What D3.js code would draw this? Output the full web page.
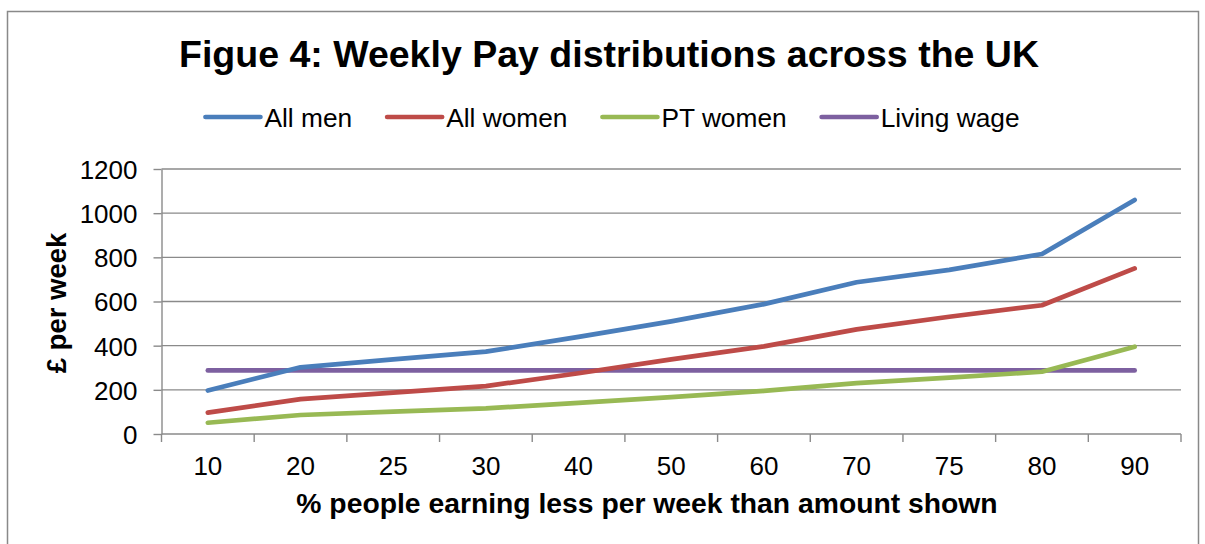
<!DOCTYPE html>
<html>
<head>
<meta charset="utf-8">
<script src="https://cdn.jsdelivr.net/npm/d3@7"></script>
<style>
  body { margin: 0; background: #fff; }
  svg { display: block; font-family: "Liberation Sans", Arial, sans-serif; }
</style>
</head>
<body>
<svg id="chart" width="1205" height="544"></svg>
<script>
// percentile categories on the x axis
var categories = ["10", "20", "25", "30", "40", "50", "60", "70", "75", "80", "90"];

// weekly pay (GBP)
var allMen     = [197, 302, 338, 373, 440, 510, 588, 687, 743, 815, 1060];
var allWomen   = [97, 158, 187, 217, 275, 338, 397, 474, 531, 583, 750];
var ptWomen    = [51, 86, 101, 116, 141, 167, 195, 230, 255, 282, 395];
var livingWage = [288, 288, 288, 288, 288, 288, 288, 288, 288, 288, 288];

var seriesNames = ["All men", "All women", "PT women", "Living wage"];
var seriesColors = ["#4a7ebb", "#be4b48", "#98b954", "#7d60a0"];
var yTicks = [0, 200, 400, 600, 800, 1000, 1200];

var series = [allMen, allWomen, ptWomen, livingWage].map(function(vals, i) {
	return { name: seriesNames[i], color: seriesColors[i], values: vals };
});

var svg = d3.select("#chart");

// outer chart border
svg.append("rect")
	.attr("x", 7.5).attr("y", 11.5)
	.attr("width", 1191).attr("height", 545)
	.attr("fill", "none")
	.attr("stroke", "#898989")
	.attr("stroke-width", 1.5);

var plotLeft = 161.5, plotRight = 1181, plotTop = 169, plotBottom = 434;

var x = d3.scaleBand().domain(categories).range([plotLeft, plotRight]).padding(0);
var y = d3.scaleLinear().domain([0, 1200]).range([plotBottom, plotTop]);

var gridColor = "#8a8a8a";

// horizontal gridlines
svg.append("g")
	.selectAll("line")
	.data(yTicks.slice(1))
	.enter().append("line")
	.attr("x1", plotLeft).attr("x2", plotRight)
	.attr("y1", function(d) { return y(d); })
	.attr("y2", function(d) { return y(d); })
	.attr("stroke", gridColor)
	.attr("stroke-width", 1.4);

// y axis
var yAxis = svg.append("g")
	.attr("transform", "translate(" + plotLeft + ",0)")
	.call(d3.axisLeft(y).tickValues(yTicks).tickFormat(d3.format("d"))
		.tickSizeInner(8).tickSizeOuter(0).tickPadding(16));
yAxis.select(".domain").attr("stroke", gridColor).attr("stroke-width", 1.4);
yAxis.selectAll(".tick line").attr("stroke", gridColor).attr("stroke-width", 1.4);
yAxis.selectAll(".tick text")
	.attr("font-size", 26)
	.attr("font-family", "Liberation Sans, Arial, sans-serif")
	.attr("fill", "#000")
	.attr("dy", "0.36em");

// x axis: ticks at band edges, labels at band centres
var edges = categories.map(function(c) { return x(c); }).concat([plotRight]);
svg.append("line")
	.attr("x1", plotLeft).attr("x2", plotRight)
	.attr("y1", plotBottom).attr("y2", plotBottom)
	.attr("stroke", gridColor).attr("stroke-width", 1.4);
svg.append("g")
	.selectAll("line")
	.data(edges)
	.enter().append("line")
	.attr("x1", function(d) { return d; })
	.attr("x2", function(d) { return d; })
	.attr("y1", plotBottom).attr("y2", plotBottom + 8)
	.attr("stroke", gridColor).attr("stroke-width", 1.4);
svg.append("g")
	.selectAll("text")
	.data(categories)
	.enter().append("text")
	.attr("x", function(d) { return x(d) + x.bandwidth() / 2; })
	.attr("y", 475)
	.attr("text-anchor", "middle")
	.attr("font-size", 26)
	.text(function(d) { return d; });

// series lines
var line = d3.line()
	.x(function(d, i) { return x(categories[i]) + x.bandwidth() / 2; })
	.y(function(d) { return y(d); });

svg.append("g")
	.selectAll("path")
	.data(series.slice().reverse())
	.enter().append("path")
	.attr("d", function(d) { return line(d.values); })
	.attr("fill", "none")
	.attr("stroke", function(d) { return d.color; })
	.attr("stroke-width", 4.7)
	.attr("stroke-linecap", "round")
	.attr("stroke-linejoin", "round");

// title
svg.append("text")
	.attr("x", 609).attr("y", 67)
	.attr("text-anchor", "middle")
	.attr("font-size", 37.5)
	.attr("font-weight", "bold")
	.text("Figue 4: Weekly Pay distributions across the UK");

// axis titles
svg.append("text")
	.attr("x", 647).attr("y", 513)
	.attr("text-anchor", "middle")
	.attr("font-size", 28.3)
	.attr("font-weight", "bold")
	.text("% people earning less per week than amount shown");

svg.append("text")
	.attr("transform", "translate(66,303) rotate(-90)")
	.attr("text-anchor", "middle")
	.attr("font-size", 27.5)
	.attr("font-weight", "bold")
	.text("£ per week");

// legend
var legend = svg.append("g");
var items = legend.selectAll("g")
	.data(series)
	.enter().append("g");
items.append("line")
	.attr("x1", 0).attr("x2", 55)
	.attr("y1", 0).attr("y2", 0)
	.attr("stroke", function(d) { return d.color; })
	.attr("stroke-width", 4.7)
	.attr("stroke-linecap", "round");
items.append("text")
	.attr("x", 59).attr("y", 9.5)
	.attr("font-size", 26.3)
	.text(function(d) { return d.name; });

var pos = 0;
items.each(function() {
	var w = this.getBBox().width;
	d3.select(this).attr("transform", "translate(" + pos + ",0)");
	pos += w + 35;
});
var total = pos - 35;
legend.attr("transform", "translate(" + (612.5 - total / 2) + ",117)");
</script>
</body>
</html>
